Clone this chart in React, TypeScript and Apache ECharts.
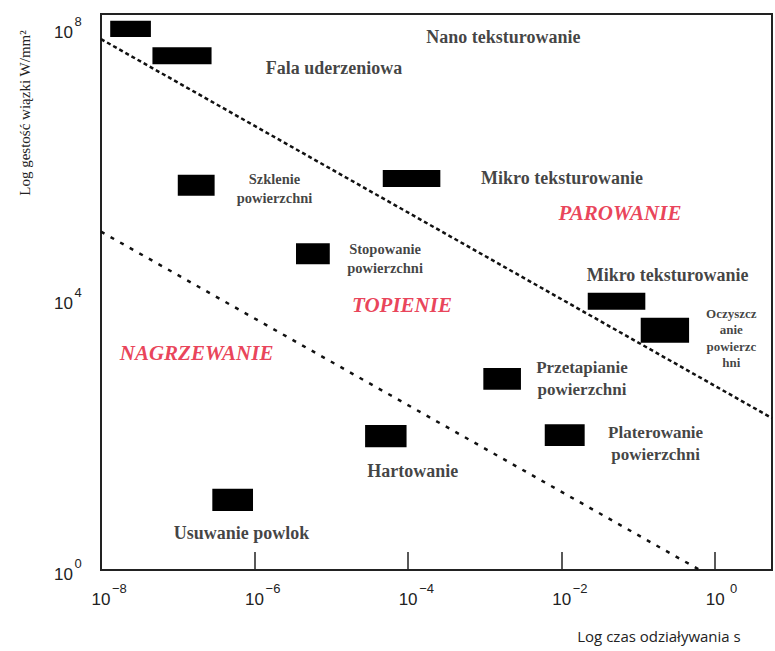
import React, { useEffect, useRef } from "react";
import * as echarts from "echarts";

// Log-log process map: interaction time (s) vs. beam power density (W/mm²).
// All coordinates below are decimal exponents (log10 of the physical value).

const X_MIN = -8;
const X_MAX = 0.74;
const Y_MIN = 0;
const Y_MAX = 8.2;
const X_TICK_STEP = 2;
const Y_TICK_STEP = 4;

// Process windows: [logT start, logT end, logQ low, logQ high]
const processWindows: number[][] = [
  [-7.88, -7.35, 7.86, 8.1],
  [-7.33, -6.56, 7.46, 7.71],
  [-7.0, -6.52, 5.52, 5.83],
  [-4.33, -3.58, 5.65, 5.9],
  [-5.46, -5.02, 4.51, 4.82],
  [-1.66, -0.91, 3.84, 4.09],
  [-0.97, -0.34, 3.35, 3.72],
  [-3.02, -2.53, 2.66, 2.98],
  [-4.56, -4.02, 1.81, 2.14],
  [-2.22, -1.7, 1.83, 2.15],
  [-6.55, -6.02, 0.87, 1.2],
];

// Regime boundaries
const vaporisationBoundary: number[][] = [
  [-8, 7.83],
  [0.74, 2.24],
];
const meltingBoundary: number[][] = [
  [-8, 4.99],
  [-0.2, 0],
];

// Process names: [logT, logQ, text]
const processLabelsLarge: [number, number, string][] = [
  [-2.76, 7.86, "Nano teksturowanie"],
  [-4.965, 7.4, "Fala uderzeniowa"],
  [-1.995, 5.78, "Mikro teksturowanie"],
  [-0.62, 4.35, "Mikro teksturowanie"],
  [-3.94, 1.46, "Hartowanie"],
  [-6.17, 0.546, "Usuwanie powlok"],
];
const processLabelsMedium: [number, number, string][] = [
  [-1.735, 2.82, "Przetapianie\npowierzchni"],
  [-0.776, 1.87, "Platerowanie\npowierzchni"],
];
const processLabelsSmall: [number, number, string][] = [
  [-5.74, 5.62, "Szklenie\npowierzchni"],
  [-4.3, 4.6, "Stopowanie\npowierzchni"],
];
const processLabelsTiny: [number, number, string][] = [
  [0.21, 3.42, "Oczyszcz\nanie\npowierzc\nhni"],
];
// Physical regimes
const regimeLabels: [number, number, string][] = [
  [-1.24, 5.27, "PAROWANIE"],
  [-4.08, 3.91, "TOPIENIE"],
  [-6.755, 3.2, "NAGRZEWANIE"],
];

const X_TITLE = "Log czas odziaływania s";
const Y_TITLE = "Log gestość wiązki W/mm²";

const SERIF = "Liberation Serif";
const SANS = "Liberation Sans";
const INK = "#111";
const RED = "#e4112f";

function powerLabel(v: number, pad: boolean): string {
  if (Math.abs(v - Math.round(v)) > 1e-6) return "";
  const e = Math.round(v);
  const s = e < 0 ? "\u2212" + -e : String(e);
  return pad ? `{sp|}{b|10}{s|${s}}` : `{b|10}{s|${s}}`;
}

function textSeries(
  items: [number, number, string][],
  label: Record<string, unknown>
) {
  return {
    type: "scatter",
    symbolSize: 0,
    silent: true,
    data: items.map((d) => ({ value: [d[0], d[1]], name: d[2] })),
    label: {
      show: true,
      position: "inside",
      formatter: (p: { name: string }) => p.name,
      fontFamily: SERIF,
      fontWeight: "bold",
      color: INK,
      ...label,
    },
    z: 5,
  };
}

export default function App() {
  const ref = useRef<HTMLDivElement>(null);

  useEffect(() => {
    document.body.style.margin = "0";
    if (!ref.current) return;
    const chart = echarts.init(ref.current, undefined, { renderer: "svg" });

    const tickRich = {
      b: { fontSize: 17, fontFamily: SANS, color: "#222", verticalAlign: "bottom" },
      s: {
        fontSize: 13,
        fontFamily: SANS,
        color: "#222",
        width: 18,
        align: "left",
        padding: [0, 0, 13, 0],
        verticalAlign: "bottom",
      },
      sp: { width: 18 },
    };

    chart.setOption({
      animation: false,
      backgroundColor: "#fff",
      grid: {
        left: 101,
        right: -4,
        top: 14,
        bottom: 81,
        show: true,
        borderColor: "#222",
        borderWidth: 2,
      },
      xAxis: {
        type: "value",
        min: X_MIN,
        max: X_MAX,
        interval: X_TICK_STEP,
        splitLine: { show: false },
        axisLine: { show: true, onZero: false, lineStyle: { color: "#222", width: 2 } },
        axisTick: {
          show: true,
          inside: true,
          length: 18,
          lineStyle: { color: "#222", width: 1.5 },
        },
        axisLabel: {
          margin: 12,
          formatter: (v: number) => powerLabel(v, true),
          rich: tickRich,
        },
      },
      yAxis: {
        type: "value",
        min: Y_MIN,
        max: Y_MAX,
        interval: Y_TICK_STEP,
        splitLine: { show: false },
        axisLine: { show: true, onZero: false, lineStyle: { color: "#222", width: 2 } },
        axisTick: { show: false },
        axisLabel: {
          margin: 18,
          formatter: (v: number) => powerLabel(v, false),
          rich: { ...tickRich, s: { ...tickRich.s, width: 10 } },
        },
      },
      graphic: [
        {
          type: "text",
          x: 25,
          y: 113,
          rotation: Math.PI / 2,
          style: {
            text: Y_TITLE,
            fontFamily: SERIF,
            fontSize: 15,
            fill: "#222",
            textAlign: "center",
            textVerticalAlign: "middle",
          },
        },
        {
          type: "text",
          x: 659,
          y: 636,
          style: {
            text: X_TITLE,
            fontFamily: "Open Sans",
            fontSize: 15,
            fill: "#222",
            textAlign: "center",
            textVerticalAlign: "middle",
          },
        },
      ],
      series: [
        {
          type: "line",
          data: vaporisationBoundary,
          symbol: "none",
          silent: true,
          lineStyle: { color: INK, width: 2.5, type: [4, 3] },
          z: 3,
        },
        {
          type: "line",
          data: meltingBoundary,
          symbol: "none",
          silent: true,
          lineStyle: { color: INK, width: 2.5, type: [4, 7] },
          z: 3,
        },
        {
          type: "custom",
          silent: true,
          data: processWindows,
          renderItem: (_params: unknown, api: any) => {
            const p0 = api.coord([api.value(0), api.value(3)]);
            const p1 = api.coord([api.value(1), api.value(2)]);
            return {
              type: "rect",
              shape: { x: p0[0], y: p0[1], width: p1[0] - p0[0], height: p1[1] - p0[1] },
              style: { fill: "#000" },
            };
          },
          z: 4,
        },
        textSeries(processLabelsLarge, { fontSize: 18 }),
        textSeries(processLabelsMedium, { fontSize: 17, lineHeight: 22 }),
        textSeries(processLabelsSmall, { fontSize: 14.5, lineHeight: 19 }),
        textSeries(processLabelsTiny, { fontSize: 13, lineHeight: 16.5 }),
        textSeries(regimeLabels, {
          fontStyle: "italic",
          fontSize: 21,
          color: RED,
        }),
      ],
    });

    return () => chart.dispose();
  }, []);

  return <div ref={ref} style={{ width: 775, height: 651 }} />;
}
